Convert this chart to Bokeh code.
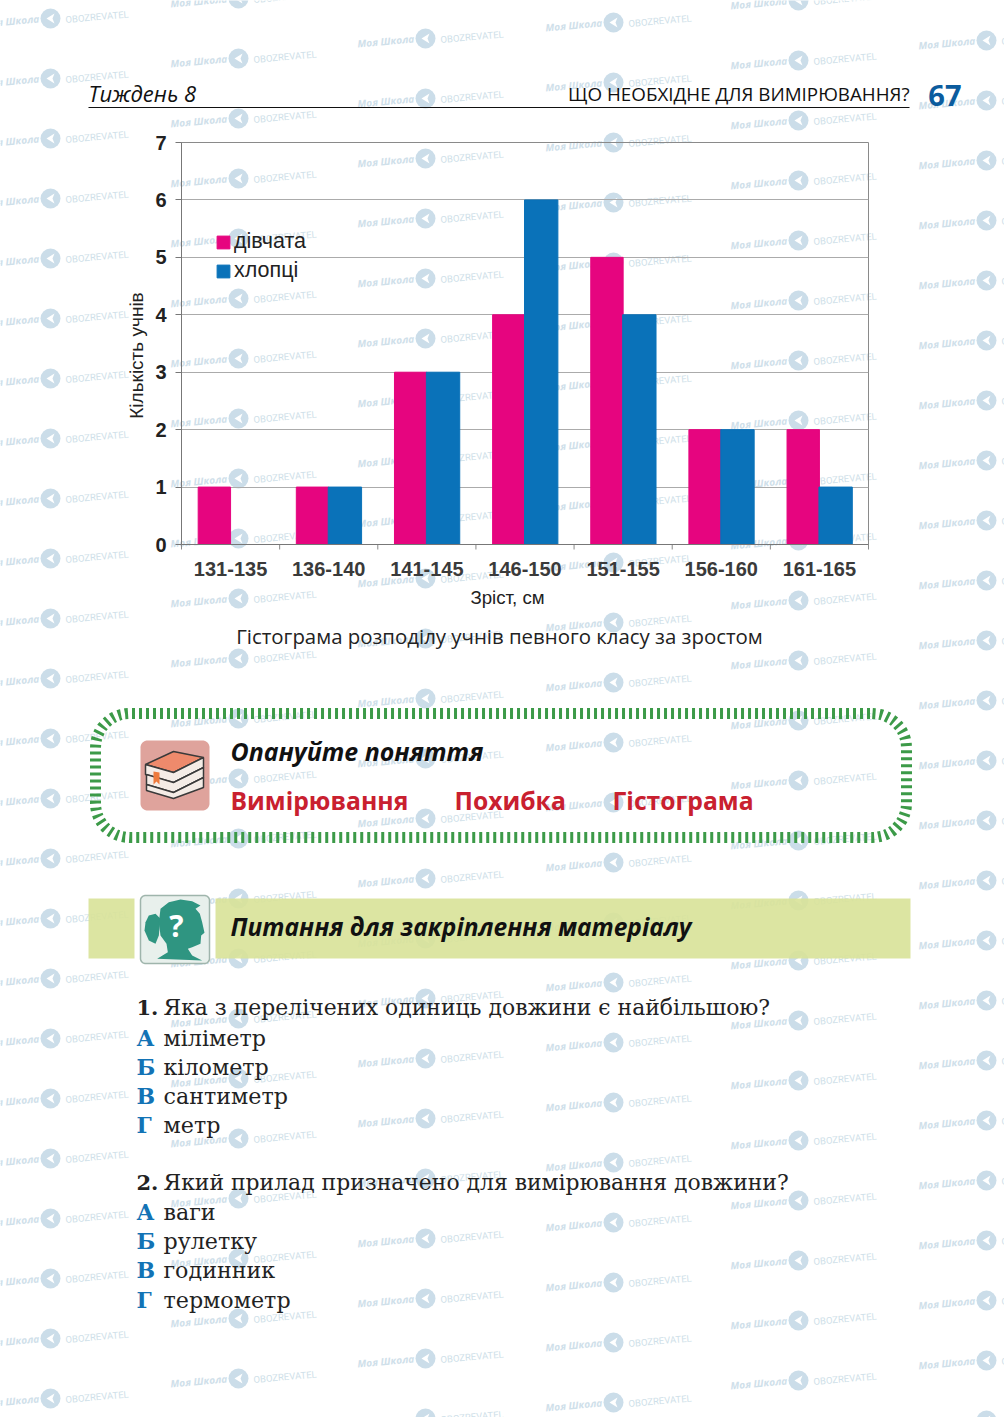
from bokeh.plotting import figure
from bokeh.embed import file_html
from bokeh.resources import INLINE
from bokeh.core.properties import value
from bokeh.models import (ColumnDataSource, FactorRange, Range1d, LinearAxis, CategoricalAxis,
                          FixedTicker, Legend, LegendItem)
from bokeh.transform import dodge
import math

categories = ["131-135", "136-140", "141-145", "146-150", "151-155", "156-160", "161-165"]
girls = [1, 1, 3, 4, 5, 2, 2]
boys = [0, 1, 3, 6, 4, 2, 1]
y_ticks = [0, 1, 2, 3, 4, 5, 6, 7]
series_names = ["дівчата", "хлопці"]
x_title = "Зріст, см"
y_title = "Кількість учнів"
caption = "Гістограма розподілу учнів певного класу за зростом"
header_left = "Тиждень 8"
header_right = "ЩО НЕОБХІДНЕ ДЛЯ ВИМІРЮВАННЯ?"
page_no = "67"
terms = ["Вимірювання", "Похибка", "Гістограма"]
q1 = "Яка з перелічених одиниць довжини є найбільшою?"
q1_opts = ["міліметр", "кілометр", "сантиметр", "метр"]
q2 = "Який прилад призначено для вимірювання довжини?"
q2_opts = ["ваги", "рулетку", "годинник", "термометр"]
letters = ["А", "Б", "В", "Г"]

PINK, BLUE = "#e6057f", "#0a72b9"
W, H = 1004, 1417
FL, FR, FT, FB = 181, 868, 142, 544   # chart frame edges in page pixels
CHART_H = 620

# ===== page figure: full-page frame in page pixels =================================
bg = figure(width=W, height=H, output_backend="svg", toolbar_location=None,
            x_range=Range1d(0, W), y_range=Range1d(H, 0), x_axis_location=None, y_axis_location=None,
            min_border_left=0, min_border_right=0, min_border_top=0, min_border_bottom=0)
bg.grid.visible = False
bg.outline_line_color = None
bg.background_fill_color = "white"
bg.border_fill_color = "white"

def poly(points, color, line=None, lw=1, alpha=1.0):
    bg.patch([a for a, _ in points], [b for _, b in points], fill_color=color, fill_alpha=alpha,
             line_color=line, line_width=lw)

def rounded(l, r, t, b, rad):
    pts = []
    for cx, cy, a0 in [(r - rad, t + rad, -90), (r - rad, b - rad, 0), (l + rad, b - rad, 90), (l + rad, t + rad, 180)]:
        for i in range(13):
            a = math.radians(a0 + i * 7.5)
            pts.append((cx + rad * math.cos(a), cy + rad * math.sin(a)))
    pts.append(pts[0])
    return pts

def label(x, y, text, size, font="Open Sans", style="normal", color="#1a1a1a", align="left", angle=0):
    bg.text(x=[x], y=[y], text=[text], text_font=value(font), text_font_size=f"{size}px",
            text_font_style=style, text_color=color, text_align=align, text_baseline="middle", angle=angle)

# --- watermark grid ---
wm_cols = [(-18, 23), (170, 3), (357, 43), (545, 27), (730, 5), (918, 45)]
ang = math.radians(5)
a_x, a_y, b_x, b_y, c_x, c_y, ch_x, ch_y = [], [], [], [], [], [], [], []
for x0, y0 in wm_cols:
    for k in range(24):
        y = y0 + 60 * k
        a_x.append(x0); a_y.append(y)
        b_x.append(x0 + 83); b_y.append(y - 4)
        cx, cy = x0 + 68, y - 5
        c_x.append(cx); c_y.append(cy)
        ch_x.append([cx + 4, cx - 4, cx + 4, cx + 2]); ch_y.append([cy - 5, cy, cy + 5, cy])
bg.scatter(c_x, c_y, size=20, marker="circle", fill_color="#cbdde9", line_color=None)
bg.patches(ch_x, ch_y, fill_color="white", line_color=None)
bg.text(a_x, a_y, text=["Моя Школа"] * len(a_x), angle=ang, text_font=value("Open Sans"),
        text_font_style="bold italic", text_font_size="10px", text_color="#cfe0ea", text_baseline="middle")
bg.text(b_x, b_y, text=["OBOZREVATEL"] * len(b_x), angle=ang, text_font=value("Roboto"),
        text_font_size="9.5px", text_color="#cfdfe9", text_baseline="middle")

# --- header ---
label(88, 92, header_left, 22, style="italic", color="#111111")
label(909, 93, header_right, 18.8, align="right", color="#111111")
label(961, 95, page_no, 29, style="bold", color="#0b5c9e", align="right")
bg.segment([88], [107], [909], [107], line_color="#111111", line_width=1)

# --- chart titles and the ticks between the categories ---
label(507, 597, x_title, 18.7, font="Liberation Sans", color="#222222", align="center")
label(136, 355, y_title, 19, font="Liberation Sans", color="#222222", align="center", angle=math.pi / 2)
edges = [FL + i * (FR - FL) / len(categories) for i in range(len(categories) + 1)]
bg.segment(edges, [FB] * len(edges), edges, [FB + 5] * len(edges), line_color="#8a8a8a", line_width=1)
label(499, 635, caption, 20.4, align="center", color="#222222")

# --- concepts box ---
ring = rounded(95, 906, 713, 837, 34)
bg.line([a for a, _ in ring], [b for _, b in ring], line_color="#3c9a48", line_width=11, line_dash="3 4")
poly(rounded(140, 209, 740, 810, 7), "#dfa39c")
poly([(145, 764), (173, 751), (203, 757), (173, 772)], "#ee8a6c", "#3a3a3a", 1.5)
poly([(145, 764), (173, 772), (203, 757), (203, 767), (173, 782), (145, 774)], "#f4ece6", "#3a3a3a", 1.5)
poly([(146, 774), (173, 782), (203, 767), (203, 777), (173, 792), (146, 784)], "#f4ece6", "#3a3a3a", 1.5)
poly([(146, 784), (173, 792), (203, 777), (203, 787), (173, 798), (146, 790)], "#f4ece6", "#3a3a3a", 1.5)
poly([(153, 771), (159, 772), (159, 784), (156, 781), (153, 784)], "#ee7a3c")
label(230, 750, "Опануйте поняття", 24.9, style="bold italic", color="#111111")
label(230, 800, terms[0], 24.7, style="bold", color="#c9202f")
label(454, 800, terms[1], 24.7, style="bold", color="#c9202f")
label(612, 800, terms[2], 24.7, style="bold", color="#c9202f")

# --- questions band ---
poly([(88, 898), (134, 898), (134, 958), (88, 958)], "#d8e298", alpha=0.9)
poly([(215, 898), (910, 898), (910, 958), (215, 958)], "#d8e298", alpha=0.9)
poly(rounded(140, 209, 895, 963, 5), "#e8f0ec", "#9fb5ac", 1.5)
def head(points):
    return [(80 + a / 3, 695 + b / 3) for a, b in points]
poly(head([(195, 680), (205, 660), (225, 655), (240, 670), (235, 720), (225, 745), (205, 735), (192, 705)]), "#2f9581")
poly(head([(240, 640), (265, 620), (300, 612), (335, 617), (360, 630), (345, 640), (358, 655), (365, 680),
           (372, 712), (362, 720), (360, 745), (335, 755), (322, 760), (335, 780), (365, 795), (230, 790),
           (262, 770), (258, 745), (240, 720), (235, 680)]), "#2f9581")
label(176, 925, "?", 30, style="bold", color="white", align="center")
label(230, 926, "Питання для закріплення матеріалу", 24.5, style="bold italic", color="#111111")

# --- questions ---
SERIF = "DejaVu Serif"
def question(num, text, opts, y0, ys):
    label(136, y0, num, 21, font=SERIF, style="bold", color="#222222")
    label(163, y0, text, 21.9, font=SERIF, color="#222222")
    for l, o, y in zip(letters, opts, ys):
        label(136, y, l, 22, font=SERIF, style="bold", color="#1373b5")
        label(163, y, o, 22.2, font=SERIF, color="#222222")

question("1.", q1, q1_opts, 1007, [1037, 1066, 1095, 1124])
question("2.", q2, q2_opts, 1182, [1211, 1240, 1269, 1299])

# ===== chart figure: transparent, laid exactly over the page figure =================
p = figure(width=W, height=CHART_H, output_backend="svg", toolbar_location=None,
           x_range=FactorRange(*categories, range_padding=0), y_range=Range1d(0, 7),
           x_axis_location=None, y_axis_location=None,
           min_border_left=FL, min_border_right=W - FR, min_border_top=FT, min_border_bottom=CHART_H - FB,
           styles={"position": "absolute", "left": "0px", "top": "0px"})
p.outline_line_color = "#8a8a8a"
p.background_fill_color = None
p.border_fill_color = None

src = ColumnDataSource(dict(cat=categories, girls=girls, boys=boys))
r1 = p.vbar(x=dodge("cat", -0.165, range=p.x_range), top="girls", width=0.33, source=src, color=PINK)
r2 = p.vbar(x=dodge("cat", 0.165, range=p.x_range), top="boys", width=0.34, source=src, color=BLUE)

cat_axis = CategoricalAxis(major_tick_line_color=None, axis_line_color="#777777", major_tick_out=5,
                           major_label_standoff=12, major_label_text_font="Liberation Sans",
                           major_label_text_font_style="bold", major_label_text_font_size="20px",
                           major_label_text_color="#3a3a3a")
p.add_layout(cat_axis, "below")
y_axis = LinearAxis(ticker=FixedTicker(ticks=y_ticks), minor_tick_line_color=None,
                    major_tick_in=0, major_tick_out=6, major_tick_line_color="#777777",
                    axis_line_color="#777777", major_label_standoff=9,
                    major_label_text_font="Liberation Sans", major_label_text_font_style="bold",
                    major_label_text_font_size="20px", major_label_text_color="#222222")
p.add_layout(y_axis, "left")
p.xgrid.visible = False
p.ygrid.ticker = FixedTicker(ticks=y_ticks)
p.ygrid.grid_line_color = "#ababab"

legend = Legend(items=[LegendItem(label=series_names[0], renderers=[r1]),
                       LegendItem(label=series_names[1], renderers=[r2])],
                location=(34, 261), background_fill_alpha=0, border_line_color=None, margin=0, padding=0,
                glyph_width=16, glyph_height=16, spacing=4, label_standoff=3,
                label_text_font="Liberation Sans", label_text_font_size="21.5px", label_text_color="#222222")
p.add_layout(legend, "center")

open("out.html", "w").write(file_html([bg, p], INLINE))
